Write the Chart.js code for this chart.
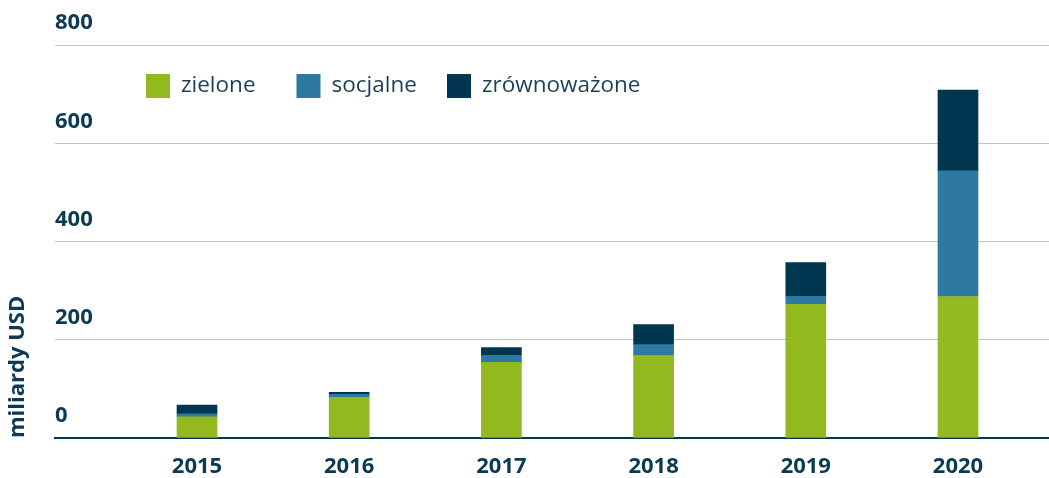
<!DOCTYPE html>
<html lang="pl">
<head>
<meta charset="UTF-8">
<title>Emisja obligacji</title>
<script src="https://cdn.jsdelivr.net/npm/chart.js"></script>
<style>
  html, body { margin: 0; padding: 0; background: #fff; }
  #wrap { width: 1049px; height: 478px; position: relative; }
</style>
</head>
<body>
<div id="wrap"><canvas id="bondsChart"></canvas></div>
<script>
var years = [2015, 2016, 2017, 2018, 2019, 2020];
var zielone = [43, 83, 154, 168, 272, 288];
var socjalne = [6, 6, 14, 22, 16, 256];
var zrownowazone = [18, 4, 16, 41, 69, 164];
var yTicks = [0, 200, 400, 600, 800];

var navy = "#0b3a52";
var fontName = "'Open Sans', 'Noto Sans', sans-serif";

function points(values) {
  return years.map(function (y, i) { return { x: y, y: values[i] }; });
}

// legend with fixed spacing, drawn inside the plot area
var legendPlugin = {
  id: "fixedLegend",
  afterDraw: function (chart) {
    var ctx = chart.ctx;
    var area = chart.chartArea;
    var x0 = area.left + 91;
    var yc = area.top + 41;
    ctx.save();
    ctx.font = "22.5px " + fontName;
    ctx.textBaseline = "middle";
    ctx.textAlign = "left";
    chart.data.datasets.forEach(function (ds, i) {
      var x = x0 + i * 150.5;
      ctx.fillStyle = ds.backgroundColor;
      ctx.fillRect(x, yc - 12, 24, 24);
      ctx.fillStyle = "#1c3f55";
      ctx.fillText(ds.label, x + 35, yc);
    });
    ctx.restore();
  }
};

var ctx = document.getElementById("bondsChart").getContext("2d");
var bondsChart = new Chart(ctx, {
  type: "bar",
  data: {
    datasets: [
      { label: "zielone", data: points(zielone), backgroundColor: "#92b920" },
      { label: "socjalne", data: points(socjalne), backgroundColor: "#2e79a0" },
      { label: "zrównoważone", data: points(zrownowazone), backgroundColor: "#00364f" }
    ]
  },
  options: {
    responsive: true,
    maintainAspectRatio: false,
    animation: false,
    barThickness: 40,
    layout: { padding: { top: 45, right: 0, bottom: 0, left: 0 } },
    plugins: {
      legend: { display: false },
      tooltip: { enabled: false }
    },
    scales: {
      x: {
        type: "linear",
        stacked: true,
        offset: false,
        min: 2014.067,
        max: 2020.598,
        z: 1,
        grid: { display: false, drawTicks: false, offset: false },
        border: { display: true, color: "#00364f", width: 2 },
        afterBuildTicks: function (scale) {
          scale.ticks = years.map(function (v) { return { value: v }; });
        },
        afterFit: function (scale) { scale.height = 40; },
        ticks: {
          autoSkip: false,
          maxRotation: 0,
          padding: 16,
          color: navy,
          font: { family: fontName, size: 22, weight: "bold" },
          callback: function (v) { return String(v); }
        }
      },
      y: {
        stacked: true,
        min: 0,
        max: 800,
        afterBuildTicks: function (scale) {
          scale.ticks = yTicks.map(function (v) { return { value: v }; });
        },
        afterFit: function (scale) { scale.width = 55; },
        grid: { color: "#bcc7cf", lineWidth: 1, drawTicks: false },
        border: { display: false },
        ticks: {
          mirror: true,
          padding: 0,
          labelOffset: -22,
          color: navy,
          font: { family: fontName, size: 22, weight: "bold" }
        },
        title: {
          display: true,
          text: "miliardy USD",
          align: "start",
          color: navy,
          font: { family: fontName, size: 22, weight: "bold" },
          padding: { top: 5, bottom: 0 }
        }
      }
    }
  },
  plugins: [legendPlugin]
});
</script>
</body>
</html>
